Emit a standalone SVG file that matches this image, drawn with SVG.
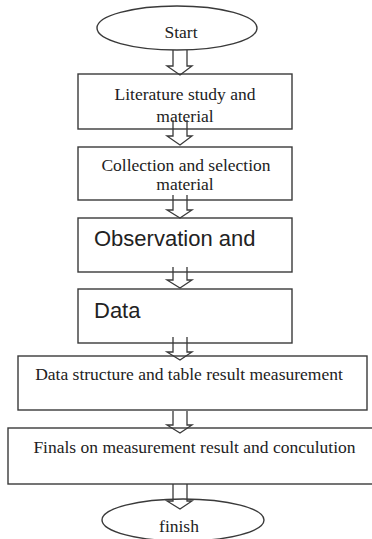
<svg xmlns="http://www.w3.org/2000/svg" width="372" height="539" viewBox="0 0 372 539">
<style>
.box{fill:#fff;stroke:#3a3a3a;stroke-width:1.4}
.arr{fill:none;stroke:#3a3a3a;stroke-width:1.3;stroke-linejoin:miter}
.s{font-family:"Liberation Serif","Times New Roman",serif;font-size:17.5px;fill:#222;text-anchor:middle}
.a{font-family:"Liberation Sans",Arial,sans-serif;font-size:22px;fill:#222}
</style>
<rect width="372" height="539" fill="#fff"/>
<g id="start">
<ellipse class="box" cx="177" cy="28" rx="80" ry="22"/>
<text class="s" x="181" y="38">Start</text>
</g>
<g id="literature">
<rect class="box" x="78" y="74" width="214" height="55"/>
<text class="s" x="185" y="100">Literature study and</text>
<text class="s" x="185" y="122">material</text>
</g>
<g id="collection">
<rect class="box" x="78" y="147" width="214" height="53"/>
<text class="s" x="186" y="171">Collection and selection</text>
<text class="s" x="185" y="190">material</text>
</g>
<g id="observation">
<rect class="box" x="78" y="218" width="214" height="54"/>
<text class="a" x="94" y="246">Observation and</text>
</g>
<g id="data">
<rect class="box" x="78" y="289" width="214" height="54"/>
<text class="a" x="94" y="318">Data</text>
</g>
<g id="structure">
<rect class="box" x="18" y="356" width="349" height="54"/>
<text class="s" x="189" y="380">Data structure and table result measurement</text>
</g>
<g id="finals">
<rect class="box" x="8" y="428" width="366" height="56"/>
<text class="s" x="194.5" y="453">Finals on measurement result and conculution</text>
</g>
<g id="finish">
<ellipse class="box" cx="183" cy="520" rx="81" ry="21"/>
<text class="s" x="179" y="532">finish</text>
</g>
<g id="connectors">
<path class="arr" d="M173,50 V66 H167 L180,75 L192,66 H187 V50"/>
<path class="arr" d="M173,120 V136 H167 L180,145 L192,136 H187 V120"/>
<path class="arr" d="M173,195 V210 H167 L180,218 L192,210 H187 V195"/>
<path class="arr" d="M173,267 V280 H167 L180,288 L192,280 H187 V267"/>
<path class="arr" d="M173,337 V352 H167 L180,360 L192,352 H187 V337"/>
<path class="arr" d="M173,411 V425 H167 L180,433 L192,425 H187 V411"/>
<path class="arr" d="M173,484 V501 H167 L180,509 L192,501 H187 V484"/>
</g>
</svg>
